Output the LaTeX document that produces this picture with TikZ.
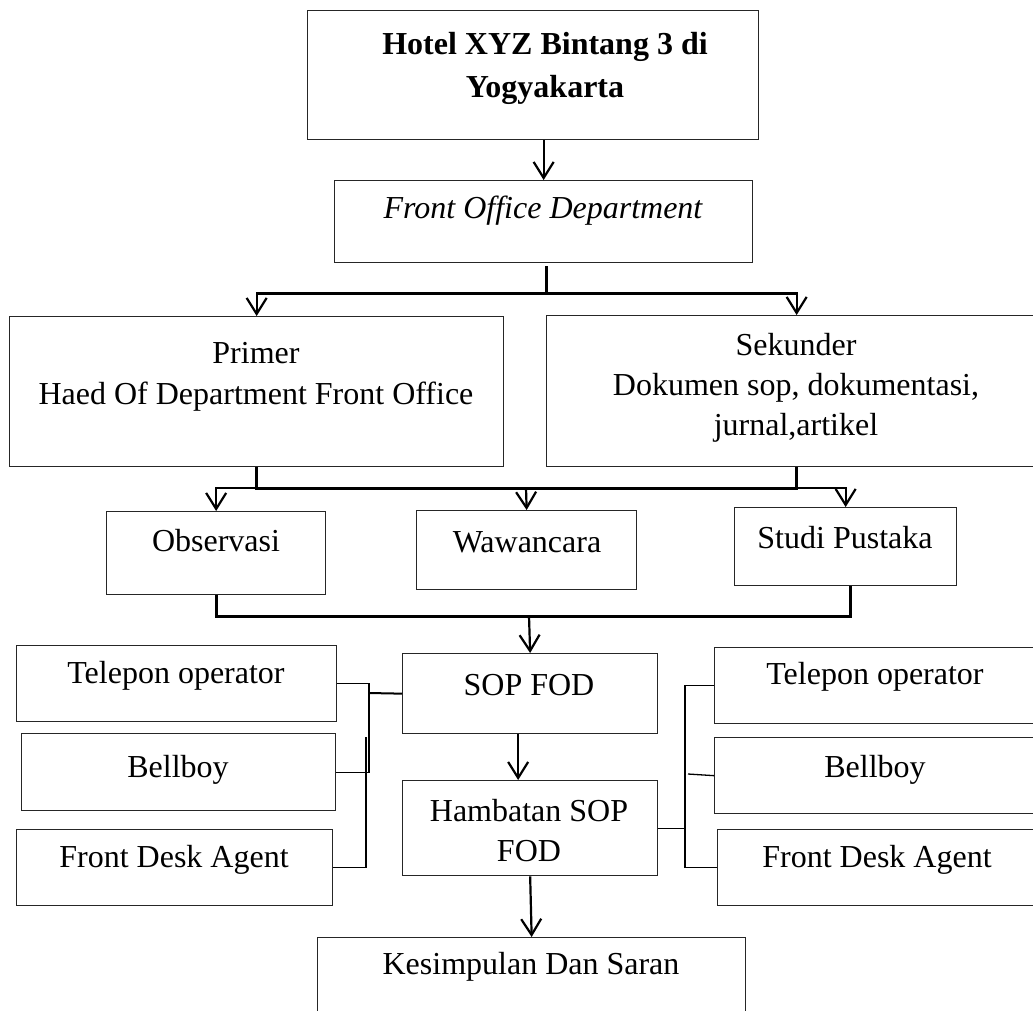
\documentclass[tikz,border=0pt]{standalone}
\usepackage{fontspec}
\setmainfont{Liberation Serif}
\usetikzlibrary{positioning, arrows.meta}

\tikzset{
  box/.style={draw=black!85, line width=1.3pt, anchor=north west, inner sep=0pt},
  txt/.style={font=\fontsize{32}{40}\selectfont, align=center, inner sep=0pt},
  link/.style={line width=1.3pt},
  bar/.style={line width=3pt},
  arr/.style={line width=2.2pt, -{Straight Barb[length=16pt,width=20pt]}},
}

\begin{document}
\begin{tikzpicture}[x=1pt, y=-1pt]
        \path[use as bounding box, clip] (0,0) rectangle (1033,1010);
        \fill[white] (0,0) rectangle (1033,1010);

        \node[box, minimum width=451, minimum height=129] (hotel) at (307,10) {};
        \node[box, minimum width=418, minimum height=82] (fod) at (334,180) {};
        \node[box, minimum width=494, minimum height=150] (prim) at (9,316) {};
        \node[box, minimum width=500, minimum height=151] (sek) at (546,315) {};
        \node[box, minimum width=219, minimum height=83] (obs) at (106,511) {};
        \node[box, minimum width=220, minimum height=79] (waw) at (416,510) {};
        \node[box, minimum width=222, minimum height=78] (stu) at (734,507) {};
        \node[box, minimum width=255, minimum height=80] (sop) at (402,653) {};
        \node[box, minimum width=255, minimum height=95] (ham) at (402,780) {};
        \node[box, minimum width=428, minimum height=100] (kes) at (317,937) {};
        \node[box, minimum width=320, minimum height=76] (tell) at (16,645) {};
        \node[box, minimum width=314, minimum height=77] (bell) at (21,733) {};
        \node[box, minimum width=316, minimum height=76] (fdal) at (16,829) {};
        \node[box, minimum width=340, minimum height=76] (telr) at (714,647) {};
        \node[box, minimum width=340, minimum height=76] (belr) at (714,737) {};
        \node[box, minimum width=340, minimum height=76] (fdar) at (717,829) {};

        \node[txt, font=\fontsize{32}{43}\selectfont\bfseries] (hotel-t) at (545,68) {Hotel XYZ Bintang 3 di\\Yogyakarta};
        \node[txt, font=\fontsize{32}{40}\selectfont\itshape] (fod-t) at (543,211) {Front Office Department};
        \node[txt, font=\fontsize{32}{41}\selectfont] (prim-t) at (256,377) {Primer\\Haed Of Department Front Office};
        \node[txt] (sek-t) at (796,388) {Sekunder\\Dokumen sop, dokumentasi,\\jurnal,artikel};
        \node[txt] (obs-t) at (216,541) {Observasi};
        \node[txt] (waw-t) at (527,542) {Wawancara};
        \node[txt] (stu-t) at (845,538) {Studi Pustaka};
        \node[txt] (sop-t) at (529,685) {SOP FOD};
        \node[txt] (ham-t) at (529,831) {Hambatan SOP\\FOD};
        \node[txt] (kes-t) at (531,967) {Kesimpulan Dan Saran};
        \node[txt] (tell-t) at (176,676) {Telepon operator};
        \node[txt] (bell-t) at (178,770) {Bellboy};
        \node[txt] (fdal-t) at (174,860) {Front Desk Agent};
        \node[txt] (telr-t) at (875,677) {Telepon operator};
        \node[txt] (belr-t) at (875,770) {Bellboy};
        \node[txt] (fdar-t) at (877,860) {Front Desk Agent};

        \coordinate (fork1) at (546,293);
        \coordinate (fork2) at (526,488);
        \coordinate (fork3) at (529,616);
        \coordinate (lj) at (369,693);
        \coordinate (lk) at (366,737);
        \coordinate (rj) at (685,685);
        \coordinate (rb) at (688,774);

        \draw[arr] (hotel.south -| fod.north) -- (fod.north);
        \draw[bar] (fork1) -- ++(0,-27);
        \draw[bar] (fork1 -| prim.north) -- (fork1 -| sek.north);
        \draw[arr] (fork1) -| (prim.north);
        \draw[arr] (fork1) -| (sek.north);

        \draw[bar] (prim.south) |- (fork2) -| (sek.south);
        \draw[arr] (prim.south |- fork2) -| (obs.north);
        \draw[arr] (fork2) -- (waw.north);
        \draw[arr] (sek.south |- fork2) -| (stu.north);

        \draw[bar] (obs.south) |- (fork3) -| ([xshift=5pt]stu.south);
        \draw[arr] (fork3) -- (sop.north);
        \draw[arr] ([xshift=-12pt]sop.south) -- ([xshift=-12pt]ham.north);
        \draw[arr] (ham.south) -- (kes.north);

        \draw[link] (tell.east) -| (bell.east -| lj) -- (bell.east);
        \draw[line width=2pt] (sop.west) -- (lj);
        \draw[link] (lk) |- (fdal.east);

        \draw[link] (telr.west) -| (rj |- fdar.west) -- (fdar.west);
        \draw[link] (ham.east) -- (ham.east -| rj);
        \draw[link] (rb) -- (belr.west);
    \end{tikzpicture}
\end{document}
